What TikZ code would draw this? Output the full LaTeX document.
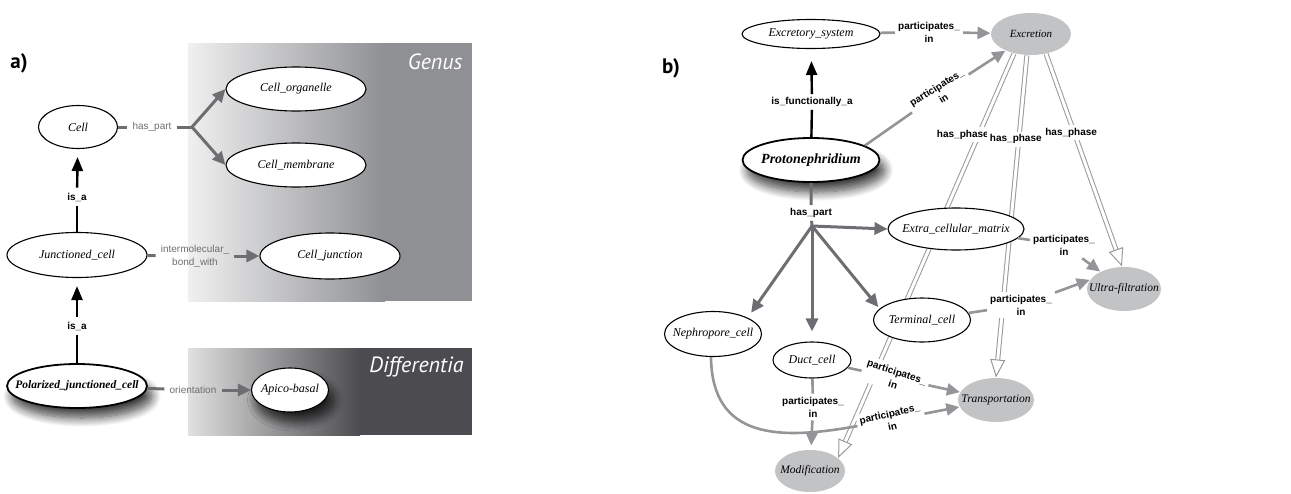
\documentclass[tikz,border=0pt]{standalone}
\usepackage{fontspec}
\setmainfont{Liberation Serif}
\setsansfont{Liberation Sans}
\newfontfamily\panelfont{PT Sans}
\usetikzlibrary{arrows.meta,shapes.geometric,shadows.blur}
\pgfdeclarelayer{background}
\pgfsetlayers{background,main}
\definecolor{relgray}{HTML}{6D6E71}
\definecolor{pigray}{HTML}{939598}
\definecolor{procgray}{HTML}{C2C3C5}
\definecolor{genusgray}{HTML}{8F9094}
\definecolor{diffgray}{HTML}{4C4C50}

\begin{document}
\begin{tikzpicture}[x=1pt,y=-1pt,
    term/.style={draw, ellipse, fill=white, line width=1.1pt, inner sep=0pt,
      minimum width=140pt, minimum height=44pt,
      font=\fontsize{12}{14}\selectfont\itshape,
      execute at begin node={\hbox to 0pt\bgroup\hss},
      execute at end node={\hss\egroup}},
    key term/.style={term, line width=1.8pt, font=\fontsize{11.5}{14}\selectfont\bfseries\itshape},
    shadowed/.style={blur shadow={shadow xshift=5pt, shadow yshift=-10pt,
      shadow blur radius=9pt, shadow blur steps=12, shadow opacity=75}},
    process/.style={term, draw=none, fill=procgray, minimum width=76pt,
      font=\fontsize{11.5}{13}\selectfont\itshape},
    rel/.style={font=\sffamily\fontsize{10}{13}\selectfont, text=relgray, inner sep=5pt, align=center},
    relb/.style={font=\sffamily\bfseries\fontsize{10}{13}\selectfont, fill=white,
      inner sep=3pt, align=center},
    is link/.style={line width=2.4pt},
    is tip/.style={-{Triangle[length=14pt,width=11pt]}},
    part link/.style={draw=relgray, line width=3pt},
    pi link/.style={draw=pigray, line width=2.6pt},
    arrowtip/.style={-{Triangle[length=13pt,width=12pt]}},
    phase/.style={draw=gray!80, line width=1pt, double=white, double distance=3pt,
      -{Triangle[length=18pt,width=15pt,open]}},
    panel label/.style={font=\panelfont\bfseries\fontsize{21}{24}\selectfont},
    area label/.style={font=\panelfont\itshape\fontsize{22}{24}\selectfont, text=white}
  ]
  \useasboundingbox (0,0) rectangle (1291,493);

  % a) genus and differentia
  \node[panel label] (a) at (19,63) {a)};
  \node[term, minimum width=79pt, minimum height=43pt] (cell) at (78,127) {Cell};
  \node[term] (organelle) at (296,89) {Cell\_organelle};
  \node[term] (membrane) at (296,165) {Cell\_membrane};
  \node[term, minimum height=45pt] (junctioned) at (77,255) {Junctioned\_cell};
  \node[term, minimum height=46pt] (junction) at (330,256) {Cell\_junction};
  \node[key term, shadowed] (polarized) at (77,386) {Polarized\_junctioned\_cell};
  \node[term, shadowed, minimum width=77pt] (apico) at (290,390) {Apico-basal};
  \node[area label, anchor=east] (genus) at (466,62) {Genus};
  \node[area label, anchor=east] (differentia) at (467,367) {Differentia};

  \node[rel] (haspart) at (152,127) {has\_part};
  \coordinate (fork a) at (192,127);
  \node[rel, text=black, font=\sffamily\bfseries\fontsize{10}{11}\selectfont] (isa top) at (77,197) {is\_a};
  \node[rel, text=black, font=\sffamily\bfseries\fontsize{10}{11}\selectfont] (isa low) at (77,326) {is\_a};
  \node[rel] (bond) at (195,256) {intermolecular\_\\bond\_with};
  \node[rel] (orient) at (193,390) {orientation};

  \draw[part link] (cell) -- (haspart) (haspart) -- (fork a);
  \draw[part link, arrowtip] (fork a) -- (organelle.west);
  \draw[part link, arrowtip] (fork a) -- (membrane.west);
  \draw[is link] (junctioned) -- (isa top);
  \draw[is link, is tip, shorten >=8pt] (isa top) -- (cell);
  \draw[part link] (junctioned) -- (bond);
  \draw[part link, arrowtip] (bond) -- (junction);
  \draw[is link] (polarized) -- (isa low);
  \draw[is link, is tip, shorten >=8pt] (isa low) -- (junctioned);
  \draw[part link] (polarized) -- (orient);
  \draw[part link, arrowtip] (orient) -- (apico);

  % b) protonephridium
  \node[panel label] (b) at (671,68) {b)};
  \node[term, minimum width=138pt, minimum height=29pt] (excretory) at (811,34) {Excretory\_system};
  \node[process, minimum width=80pt, minimum height=42pt, font=\fontsize{11}{12}\selectfont\itshape] (excretion) at (1031,34) {Excretion};
  \node[key term, shadowed, minimum width=137pt, font=\fontsize{14}{15}\selectfont\bfseries\itshape] (proto) at (811,160) {Protonephridium};
  \node[term, minimum width=136pt, minimum height=42pt] (matrix) at (956,229) {Extra\_cellular\_matrix};
  \node[term, minimum width=97pt, minimum height=45pt] (nephro) at (713,334) {Nephropore\_cell};
  \node[term, minimum width=78pt, minimum height=36pt] (duct) at (812,360) {Duct\_cell};
  \node[term, minimum width=97pt, minimum height=44pt] (terminal) at (922,320) {Terminal\_cell};
  \node[process, minimum width=70pt, minimum height=42pt] (modif) at (810,471) {Modification};
  \node[process] (transport) at (996,400) {Transportation};
  \node[process, minimum width=74pt] (ultra) at (1124,289) {Ultra-filtration};

  \node[relb] (pi excr) at (929,32) {participates\_\\in};
  \draw[pi link] (excretory) -- (pi excr);
  \draw[pi link, arrowtip] (pi excr) -- (excretion);

  \node[relb] (func) at (812,102) {is\_functionally\_a};
  \draw[is link] (proto) -- (func);
  \draw[is link, is tip, shorten >=12pt] (func) -- (excretory);

  \node[relb, rotate=32] (pi proto) at (940,93) {participates\_\\in};
  \draw[pi link] (proto.15) -- (pi proto);
  \draw[pi link, arrowtip] (pi proto) -- (excretion);

  \node[relb] (haspart b) at (811,213) {has\_part};
  \coordinate (fork b) at (812,226);
  \draw[part link] (proto) -- (haspart b) (haspart b) -- (fork b);
  \draw[part link, arrowtip] (fork b) -- (matrix.west);
  \draw[part link, arrowtip, shorten >=6pt] (fork b) -- (nephro.north east);
  \draw[part link, arrowtip, shorten >=10pt] (fork b) -- (duct.north);
  \draw[part link, arrowtip, shorten >=2pt] (fork b) -- (terminal.165);

  \node[relb] (pi matrix) at (1064,245) {participates\_\\in};
  \draw[pi link] (matrix) -- (pi matrix);
  \draw[pi link, arrowtip] (pi matrix) -- (ultra);

  \node[relb] (pi terminal) at (1021,305) {participates\_\\in};
  \draw[pi link] (terminal) -- (pi terminal);
  \draw[pi link, arrowtip] (pi terminal) -- (ultra.165);

  \node[relb, rotate=-18] (pi duct) at (895,378) {participates\_\\in};
  \draw[pi link] (duct) -- (pi duct);
  \draw[pi link, arrowtip] (pi duct) -- (transport);

  \node[relb] (pi down) at (813,407) {participates\_\\in};
  \draw[pi link] (duct) -- (pi down);
  \draw[pi link, arrowtip, shorten >=4pt] (pi down) -- (modif);

  \node[relb, rotate=13] (pi nephro) at (891,420) {participates\_\\in};
  \draw[pi link] (nephro.265) .. controls (712,440) and (780,440) .. (pi nephro);
  \draw[pi link, arrowtip] (pi nephro) -- (transport);

  \begin{pgfonlayer}{background}
    \shade[left color=black!6, right color=genusgray] (188,43) rectangle (385,301);
    \fill[genusgray] (385,43) rectangle (472,301);
    \shade[left color=black!12, right color=diffgray] (188,348) rectangle (360,435);
    \fill[diffgray] (360,348) rectangle (472,435);
    \draw[phase] (excretion.229) -- node[relb, pos=0.2, xshift=-16pt] {has\_phase} (modif.25);
    \draw[phase] (excretion.259) -- node[relb, pos=0.26, xshift=-3pt] {has\_phase} (transport.north);
    \draw[phase] (excretion.307) -- node[relb, pos=0.37, xshift=-3pt] {has\_phase} (ultra.95);
  \end{pgfonlayer}
\end{tikzpicture}
\end{document}
